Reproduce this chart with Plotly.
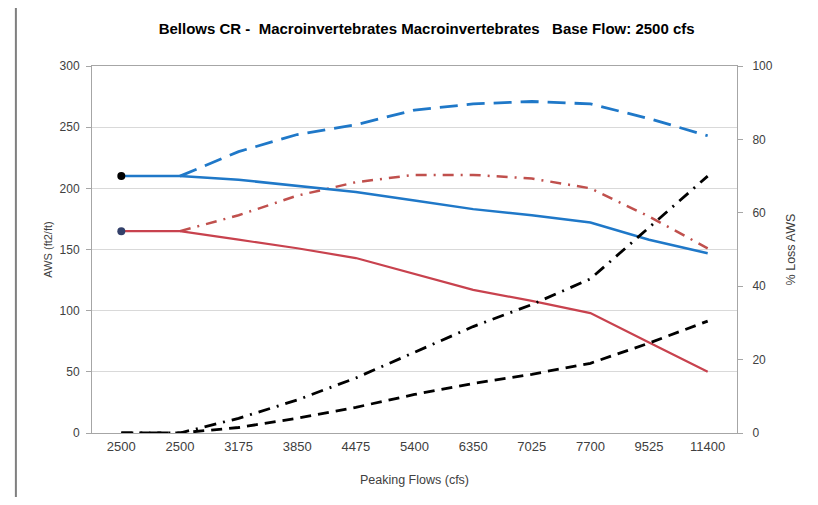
import plotly.graph_objects as go

# Peaking flow categories (two base-flow points share the 2500 label)
categories = ["2500", "2500", "3175", "3850", "4475", "5400", "6350", "7025", "7700", "9525", "11400"]

# AWS (ft2/ft) - left axis
aws_blue = [210, 210, 207, 202, 197, 190, 183, 178, 172, 158, 147]
aws_red = [165, 165, 158, 151, 143, 130, 117, 108, 98, 74, 50]
aws_blue_dash = [None, 210, 230, 244, 252, 264, 269, 271, 269, 257, 243]
aws_red_dashdot = [None, 165, 178, 194, 205, 211, 211, 208, 200, 177, 151]

# % Loss AWS - right axis
loss_dashdot = [0, 0, 4, 9, 15, 22, 29, 35, 42, 56, 70]
loss_dash = [0, 0, 1.5, 4, 7, 10.5, 13.5, 16, 19, 24.5, 30.5]

xs = list(range(len(categories)))
font = "Liberation Sans, Arial, sans-serif"

fig = go.Figure()

fig.add_trace(go.Scatter(x=xs, y=aws_blue_dash, mode="lines",
                         line=dict(color="#1f78c8", width=2.8, dash="18px,9px")))
fig.add_trace(go.Scatter(x=xs, y=aws_red_dashdot, mode="lines",
                         line=dict(color="#c0504d", width=2.5, dash="11px,7px,2px,7px")))
fig.add_trace(go.Scatter(x=xs, y=aws_blue, mode="lines",
                         line=dict(color="#1f78c8", width=2.5)))
fig.add_trace(go.Scatter(x=xs, y=aws_red, mode="lines",
                         line=dict(color="#c8424e", width=2.2)))
fig.add_trace(go.Scatter(x=xs, y=loss_dashdot, mode="lines", yaxis="y2",
                         line=dict(color="#000000", width=2.8, dash="12px,7px,2px,7px")))
fig.add_trace(go.Scatter(x=xs, y=loss_dash, mode="lines", yaxis="y2",
                         line=dict(color="#000000", width=2.8, dash="11px,7px")))
# starting points
fig.add_trace(go.Scatter(x=xs[:1], y=aws_blue[:1], mode="markers",
                         marker=dict(color="#000000", size=8)))
fig.add_trace(go.Scatter(x=xs[:1], y=aws_red[:1], mode="markers",
                         marker=dict(color="#33406a", size=8)))

# page body adds an 8px offset, so the figure is sized to sit inside the window
fig.update_layout(
    width=802, height=489,
    margin=dict(l=84, r=73, t=58, b=64),
    paper_bgcolor="white", plot_bgcolor="white",
    showlegend=False,
    font=dict(family=font, size=12, color="#404040"),
    title=dict(text="<b>Bellows CR -  Macroinvertebrates Macroinvertebrates   Base Flow: 2500 cfs</b>",
               x=0.522, xanchor="center", y=0.958, yanchor="middle",
               font=dict(family=font, size=15, color="#000000")),
    xaxis=dict(tickmode="array", tickvals=xs, ticktext=categories,
               range=[-0.5, len(categories) - 0.5], showgrid=False, zeroline=False,
               showline=True, linecolor="#a6a6a6", mirror=True,
               ticks="", ticklabelstandoff=1, automargin=False,
               tickfont=dict(size=13),
               title=dict(text="Peaking Flows (cfs)", standoff=22,
                          font=dict(size=12.5, color="#404040"))),
    yaxis=dict(range=[0, 300], dtick=50, showgrid=True, gridcolor="#d9d9d9",
               zeroline=False, showline=True, linecolor="#a6a6a6", mirror=True,
               ticks="outside", ticklen=5, tickcolor="#a6a6a6", automargin=False,
               ticklabelstandoff=4,
               title=dict(text="AWS (ft2/ft)", standoff=4,
                          font=dict(size=11, color="#404040"))),
    yaxis2=dict(range=[0, 100], dtick=20, overlaying="y", side="right",
                showgrid=False, zeroline=False, showline=True, linecolor="#a6a6a6",
                ticks="outside", ticklen=5, tickcolor="#a6a6a6", automargin=False,
                ticklabelstandoff=7,
                title=dict(text="% Loss AWS", standoff=14,
                           font=dict(size=12.5, color="#404040"))),
)

# chart frame (left edge)
fig.add_shape(type="line", xref="paper", yref="paper",
              x0=-0.118, x1=-0.118, y0=-0.3, y1=1.3,
              line=dict(color="#7f7f7f", width=2))

fig.write_html("out.html")
